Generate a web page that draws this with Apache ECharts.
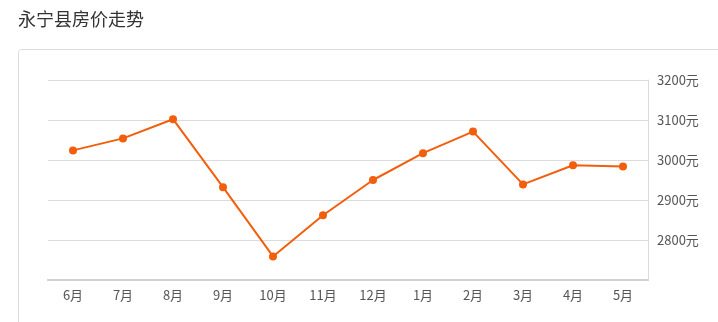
<!DOCTYPE html>
<html>
<head>
<meta charset="utf-8">
<script src="https://cdn.jsdelivr.net/npm/echarts@6/dist/echarts.min.js"></script>
<style>
html,body{margin:0;padding:0;background:#fff;}
#c{width:718px;height:322px;}
</style>
</head>
<body>
<div id="c"></div>
<script>
const titleText = '永宁县房价走势';
const months = ['6月','7月','8月','9月','10月','11月','12月','1月','2月','3月','4月','5月'];
const prices = [3024, 3054, 3102, 2932, 2759, 2862, 2950, 3017, 3071, 2939, 2987, 2984];
const yMin = 2700, yMax = 3200, yStep = 100;

const chart = echarts.init(document.getElementById('c'), null, {renderer:'canvas'});
chart.setOption({
  animation:false,
  title:{text:titleText,left:13,top:5,textStyle:{fontFamily:'Noto Sans CJK SC',fontSize:18,fontWeight:'normal',color:'#333'}},
  graphic:[{type:'rect',shape:{x:18.5,y:49.5,width:712,height:300,r:3},style:{fill:'none',stroke:'#dcdcdc',lineWidth:1},silent:true,z:-1}],
  grid:{left:48,right:70,top:80,bottom:42},
  xAxis:{type:'category',data:months,boundaryGap:true,
    axisLine:{lineStyle:{color:'#d0d0d0',width:2}},
    axisTick:{alignWithLabel:true,length:4,lineStyle:{color:'#d0d0d0'}},
    axisLabel:{color:'#555',fontSize:13,margin:9,fontFamily:'Noto Sans CJK SC'}},
  yAxis:{type:'value',position:'right',min:yMin,max:yMax,interval:yStep,
    axisLine:{show:true,lineStyle:{color:'#dcdcdc'}},
    axisTick:{show:false},
    splitLine:{lineStyle:{color:'#dcdcdc'}},
    axisLabel:{showMinLabel:false,color:'#555',fontSize:13,margin:9,fontFamily:'Noto Sans CJK SC',formatter:function(v){return String(v)+'元';}}},
  series:[{type:'line',data:prices,symbol:'circle',symbolSize:8,
    lineStyle:{color:'#f25e0c',width:2},itemStyle:{color:'#f25e0c'}}]
});
</script>
</body>
</html>
